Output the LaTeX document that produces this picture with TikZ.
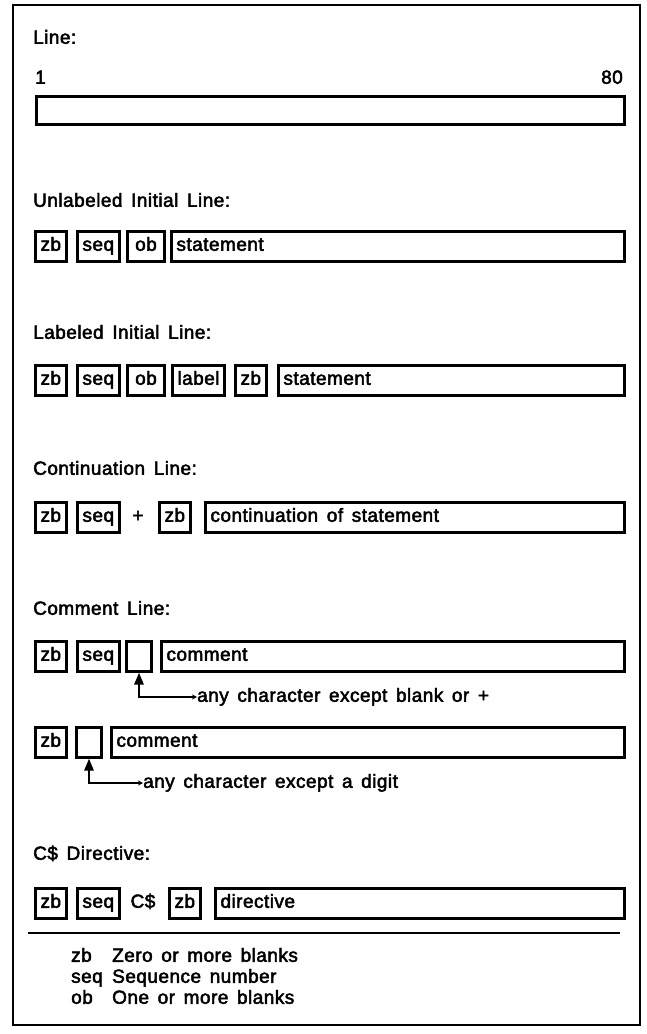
\documentclass[tikz,border=0pt]{standalone}
\usepackage{fontspec}
\setmainfont{Liberation Sans}[LetterSpace=2.5, WordSpace=1.5, FakeBold=2.5]
\usetikzlibrary{arrows.meta}
\begin{document}
\begin{tikzpicture}[x=1pt,y=-1pt,
  font=\fontsize{19}{22}\selectfont,
  fld/.style={draw, line width=3pt, anchor=west, minimum height=30pt,
    inner xsep=5pt, inner ysep=0pt, text height=13.5pt, text depth=4pt},
  longfld/.style={fld, align=flush left},
  txt/.style={anchor=west, inner sep=0pt, text height=13.5pt, text depth=4pt},
  ctxt/.style={inner sep=0pt, text height=13.5pt, text depth=4pt},
  pointer/.style={line width=2.6pt, {Stealth[length=5pt,width=5pt]}-{Triangle[length=12pt,width=9pt]}},
  frame/.style={line width=1.6pt},
]
\useasboundingbox (0,0) rectangle (647,1034);
\draw[frame] (13,5) rectangle (640,1025);

% Line
\node[txt] (hline) at (33,39) {Line:};
\node[txt] (one) at (35,79) {1};
\node[ctxt, anchor=east] (eighty) at (623,79) {80};
\node[fld, minimum width=588pt, minimum height=28pt] (lbox) at (35,110) {};

% Unlabeled Initial Line
\node[txt] (hunl) at (33,202) {Unlabeled Initial Line:};
\node[fld] (a1) at (34,246) {zb};
\node[fld] (a2) at (76,246) {seq};
\node[fld, minimum width=37pt] (a3) at (126,246) {ob};
\node[longfld, text width=443pt] (a4) at (170,246) {statement};

% Labeled Initial Line
\node[txt] (hlab) at (33,334) {Labeled Initial Line:};
\node[fld] (b1) at (34,380) {zb};
\node[fld] (b2) at (76,380) {seq};
\node[fld, minimum width=37pt] (b3) at (126,380) {ob};
\node[fld] (b4) at (171,380) {label};
\node[fld] (b5) at (234,380) {zb};
\node[longfld, text width=336pt] (b6) at (277,380) {statement};

% Continuation Line
\node[txt] (hcon) at (33,470) {Continuation Line:};
\node[fld] (c1) at (34,517) {zb};
\node[fld] (c2) at (76,517) {seq};
\node[ctxt] (c3) at (138,517) {+};
\node[fld] (c4) at (158,517) {zb};
\node[longfld, text width=409pt] (c5) at (204,517) {continuation of statement};

% Comment Line
\node[txt] (hcom) at (33,610) {Comment Line:};
\node[fld] (d1) at (34,656) {zb};
\node[fld] (d2) at (76,656) {seq};
\node[fld, minimum width=25pt] (d3) at (125,656) {};
\node[longfld, text width=453pt] (d4) at (160,656) {comment};
\node[txt] (t1) at (197,697) {any character except blank or +};
\draw[pointer] (t1.west) -| (d3.south);

\node[fld] (e1) at (34,742) {zb};
\node[fld, minimum width=25pt] (e2) at (75,742) {};
\node[longfld, text width=503pt] (e3) at (110,742) {comment};
\node[txt] (t2) at (143,783) {any character except a digit};
\draw[pointer] (t2.west) -| (e2.south);

% C$ Directive
\node[txt] (hdir) at (33,855) {C\$ Directive:};
\node[fld] (f1) at (34,903) {zb};
\node[fld] (f2) at (76,903) {seq};
\node[ctxt] (f3) at (143,903) {C\$};
\node[fld] (f4) at (168,903) {zb};
\node[longfld, text width=399pt] (f5) at (214,903) {directive};

% rule and legend
\coordinate (rl) at (28,933);
\coordinate (rr) at (620,933);
\draw[line width=1.8pt] (rl) -- (rr);
\node[txt] (k1) at (71,957) {zb};
\node[txt] (v1) at (112,957) {Zero or more blanks};
\node[txt] (k2) at (71,978) {seq};
\node[txt] (v2) at (112,978) {Sequence number};
\node[txt] (k3) at (71,999) {ob};
\node[txt] (v3) at (112,999) {One or more blanks};
\end{tikzpicture}
\end{document}
